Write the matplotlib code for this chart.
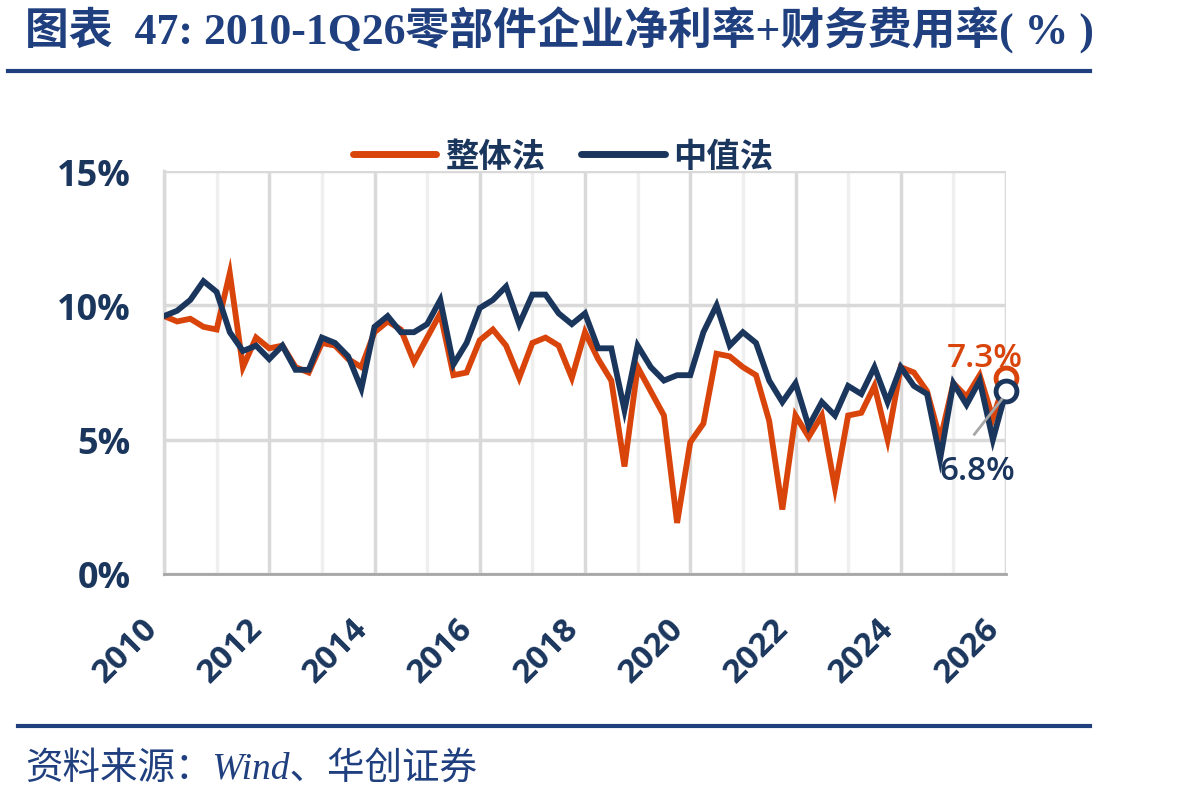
import numpy as np
import matplotlib
matplotlib.use("Agg")
import matplotlib.pyplot as plt
from matplotlib.lines import Line2D
from matplotlib.ticker import FixedLocator

plt.rcParams['font.family'] = ['Noto Sans CJK SC', 'DejaVu Sans']

# quarterly values, 2010Q1 .. 2026Q1 (%)
overall = [9.6, 9.4, 9.5, 9.2, 9.1, 11.2, 7.7, 8.8, 8.4, 8.5, 7.7, 7.5, 8.6, 8.5, 8.0, 7.7,
           9.0, 9.4, 9.1, 7.9, 8.8, 9.7, 7.4, 7.5, 8.7, 9.1, 8.5, 7.3, 8.6, 8.8, 8.5, 7.3,
           9.0, 8.0, 7.2, 4.0, 7.7, 6.8, 5.9, 1.9, 4.9, 5.6, 8.2, 8.1, 7.7, 7.4, 5.7, 2.4,
           5.9, 5.1, 5.9, 3.2, 5.9, 6.0, 7.0, 5.0, 7.7, 7.5, 6.8, 5.0, 7.1, 6.6, 7.4, 5.8,
           7.3]
median = [9.6, 9.8, 10.2, 10.9, 10.5, 9.0, 8.3, 8.5, 8.0, 8.5, 7.6, 7.6, 8.8, 8.6, 8.1, 6.9,
          9.2, 9.6, 9.0, 9.0, 9.3, 10.2, 7.8, 8.6, 9.9, 10.2, 10.7, 9.3, 10.4, 10.4, 9.7, 9.3,
          9.7, 8.4, 8.4, 6.1, 8.5, 7.7, 7.2, 7.4, 7.4, 9.0, 10.0, 8.5, 9.0, 8.6, 7.2, 6.4,
          7.1, 5.5, 6.4, 5.9, 7.0, 6.7, 7.7, 6.4, 7.7, 7.0, 6.7, 4.3, 7.1, 6.3, 7.2, 5.0,
          6.8]
series_names = ['整体法', '中值法']
year_labels = list(range(2010, 2027, 2))
y_ticks = [0, 5, 10, 15]

ORANGE = '#D9440B'
NAVY = '#1B365D'
BLUE = '#1F3F7F'
NUMFONT = ['Open Sans', 'DejaVu Sans']

x = 2010 + np.arange(len(overall)) * 0.25

fig = plt.figure(figsize=(11.98, 8.03), dpi=100)
ax = fig.add_axes([164/1198, 1 - 575/803, (1006-164)/1198, (575-172)/803])

ax.plot(x, overall, color=ORANGE, lw=4.2, solid_joinstyle='miter', zorder=3)
ax.plot(x, median, color=NAVY, lw=4.2, solid_joinstyle='miter', zorder=4)

# end point markers
ax.plot(x[-1], overall[-1], 'o', ms=15, mfc='white', mec=ORANGE, mew=3.5, zorder=5, clip_on=False)
ax.plot(x[-1], median[-1], 'o', ms=15, mfc='white', mec=NAVY, mew=3.5, zorder=6, clip_on=False)
ax.text(x[-1] - 0.4, overall[-1] + 0.75, f'{overall[-1]:.1f}%', color=ORANGE, fontsize=24,
        ha='center', va='center', family=NUMFONT, fontweight='semibold', zorder=7)
ax.plot([x[-1] - 0.6, x[-1] - 0.08], [5.2, 6.5], color='#A6A6A6', lw=2, zorder=7)
ax.text(x[-1] - 0.55, 3.85, f'{median[-1]:.1f}%', color=NAVY, fontsize=24,
        ha='center', va='center', family=NUMFONT, fontweight='semibold', zorder=7)

ax.set_xlim(2010, 2026)
ax.set_ylim(0, 15)

# year gridlines: even years darker, odd years lighter
ax.xaxis.set_major_locator(FixedLocator(year_labels))
ax.xaxis.set_minor_locator(FixedLocator(range(2011, 2026, 2)))
ax.set_xticklabels([str(y) for y in year_labels], rotation=45, ha='right', va='top',
                   fontsize=24, fontweight='bold', color=NAVY, family=NUMFONT)
ax.grid(which='major', axis='x', color='#D9D9D9', lw=2.5, zorder=0)
ax.grid(which='minor', axis='x', color='#EFEFEF', lw=2.5, zorder=0)

ax.set_yticks(y_ticks)
ax.set_yticklabels([f'{v}%' for v in y_ticks], fontsize=26, fontweight='bold',
                   color=NAVY, family=NUMFONT)
ax.grid(which='major', axis='y', color='#D9D9D9', lw=2.5, zorder=0)

ax.tick_params(axis='both', which='both', length=0)
ax.tick_params(axis='x', pad=27)
ax.tick_params(axis='y', pad=24)
for s in ['top', 'right']:
    ax.spines[s].set_visible(False)
ax.spines['left'].set_color('#D9D9D9')
ax.spines['left'].set_linewidth(2.5)
ax.spines['bottom'].set_color('#A6A6A6')
ax.spines['bottom'].set_linewidth(2)

handles = [Line2D([], [], color=ORANGE, lw=5, solid_capstyle='round'),
           Line2D([], [], color=NAVY, lw=5, solid_capstyle='round')]
leg = fig.legend(handles, series_names, loc='center', bbox_to_anchor=(563/1198, 1 - 157/803),
                 ncol=2, frameon=False, handlelength=2.5, columnspacing=1.1, handletextpad=0.25,
                 prop={'size': 24, 'weight': 'bold'})
for t in leg.get_texts():
    t.set_color(NAVY)

# title and source
fig.text(25/1198, 1 - 30/803, '图表  47: 2010-1Q26零部件企业净利率+财务费用率( % )',
         fontsize=31.5, fontweight='bold', color=BLUE, ha='left', va='center',
         family=['Liberation Serif', 'Noto Sans CJK SC'])
fig.add_artist(Line2D([8/1198, 1090/1198], [1 - 72/803, 1 - 72/803], color=BLUE, lw=3))
fig.add_artist(Line2D([18/1198, 1090/1198], [1 - 727/803, 1 - 727/803], color=BLUE, lw=3))
fig.text(25/1198, 1 - 770/803, '资料来源：Wind、华创证券', fontsize=27, color=BLUE,
         ha='left', va='center', style='italic',
         family=['Liberation Serif', 'Noto Sans CJK SC'])

fig.savefig('out.png', dpi=100)
